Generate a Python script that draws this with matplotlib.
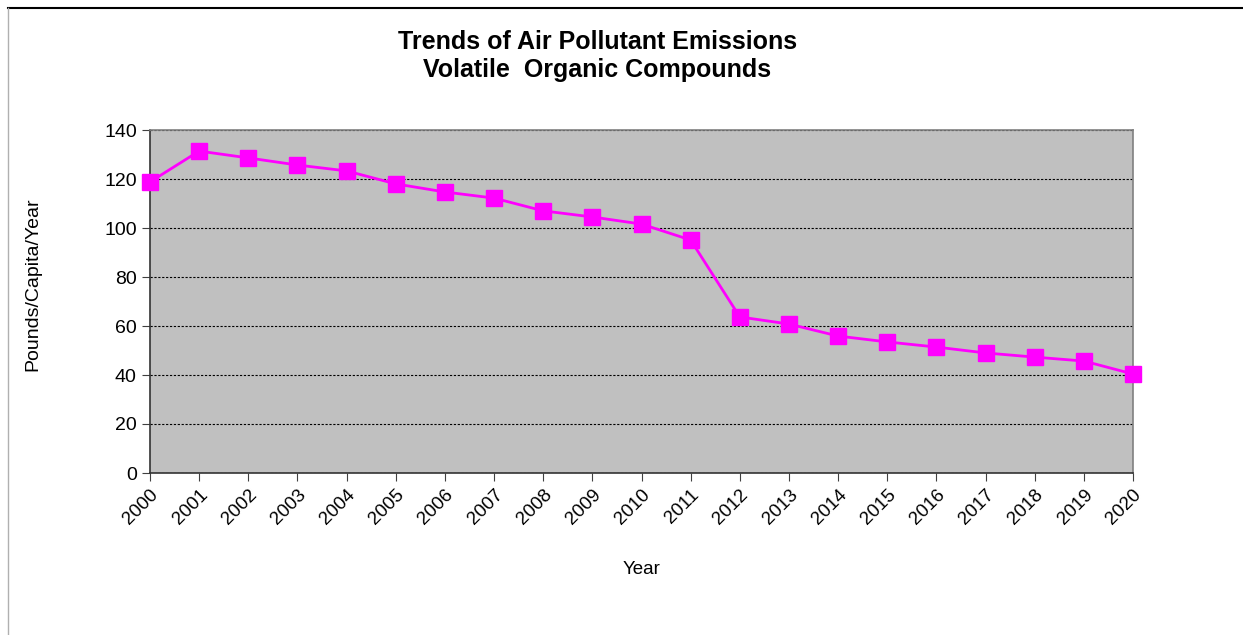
import matplotlib.pyplot as plt
import numpy as np

plt.rcParams['font.family'] = ['Liberation Sans', 'DejaVu Sans']

# data
years = list(range(2000, 2021))
voc = [118.8, 131.4, 128.6, 125.7, 123.3, 118.0, 114.7, 112.2, 107.0, 104.5,
       101.6, 95.1, 63.7, 60.8, 55.9, 53.5, 51.4, 49.0, 47.3, 45.7, 40.4]
yticks = np.arange(0, 141, 20)

fig = plt.figure(figsize=(12.43, 6.35), dpi=100)
# page frame: black top edge, grey left edge
fig.add_artist(plt.Line2D([8/1243, 1], [1 - 8/635, 1 - 8/635], color='black', lw=1.5, transform=fig.transFigure))
fig.add_artist(plt.Line2D([8/1243, 8/1243], [0, 1 - 8/635], color='#b0b0b0', lw=1, transform=fig.transFigure))

ax = fig.add_axes([150/1243, 1 - 473/635, 983/1243, 343/635])
ax.set_facecolor('#c0c0c0')
ax.plot(years, voc, color='#ff00ff', lw=2, marker='s', markersize=11, clip_on=False, zorder=3)

ax.set_xlim(2000, 2020)
ax.set_ylim(0, 140)
ax.set_xticks(years)
ax.set_xticklabels([str(y) for y in years], rotation=45, ha='right', rotation_mode='anchor', fontsize=13.5)
ax.set_yticks(yticks)
ax.set_yticklabels([str(v) for v in yticks], fontsize=14)
ax.yaxis.grid(True, color='black', linestyle=(0, (2, 1.5)), lw=0.8)
ax.set_axisbelow(True)
ax.tick_params(direction='out', length=6, color='#404040')

for s in ['left', 'bottom']:
    ax.spines[s].set_color('#333333')
    ax.spines[s].set_linewidth(1.2)
for s in ['top', 'right']:
    ax.spines[s].set_color('#808080')
    ax.spines[s].set_linewidth(1.2)

ax.set_xlabel('Year', fontsize=13.5, labelpad=24)
fig.text(33/1243, 1 - 284/635, 'Pounds/Capita/Year', rotation=90, ha='center', va='center', fontsize=14)

fig.text(0.4805, 1 - 42/635, 'Trends of Air Pollutant Emissions', ha='center', va='center', fontsize=18, fontweight='bold')
fig.text(0.4805, 1 - 70/635, 'Volatile  Organic Compounds', ha='center', va='center', fontsize=18, fontweight='bold')

fig.savefig('out.png', dpi=100)
